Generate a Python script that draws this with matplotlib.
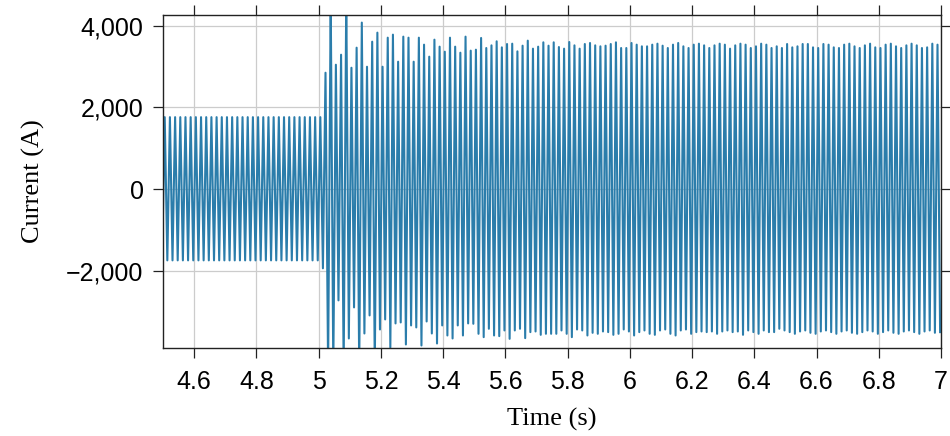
import numpy as np
import matplotlib
matplotlib.use('Agg')
import matplotlib.pyplot as plt
from matplotlib.ticker import FuncFormatter

# 60 Hz waveform, peak/trough values per cycle
f_grid = 60.0
t_first_peak = 4.5055

pre_peaks = [1760] * 31
pre_troughs = [-1745] * 31 + [-1940]   # leading trough before the first peak, last one just before the fault

fault_peaks = [2847, 4700, 3043, 3288, 4700, 2969, 3460, 4074, 2994, 3607,
               3828, 2994, 3705, 3779, 3117, 3730, 3705, 3117, 3705, 3534,
               3240, 3656, 3485, 3362, 3705, 3485, 3337, 3730, 3387, 3411]
fault_troughs = [-4400, -4400, -2724, -4400, -3656, -2896, -4400, -3534, -3092, -4400,
                 -3436, -3190, -3877, -3288, -3264, -3803, -3337, -3386, -3828, -3240,
                 -3534, -3779, -3337, -3583, -3656, -3337, -3583, -3288, -3297, -3542]

steady_peaks = [3698, 3452, 3517, 3616, 3468, 3550, 3558, 3370, 3509, 3632,
                3436, 3485, 3591, 3509, 3591, 3476, 3436, 3599, 3517, 3436,
                3550, 3575, 3517, 3493, 3509, 3550, 3591, 3452, 3452,
                3575, 3534, 3493, 3493, 3534, 3558, 3509, 3452, 3534, 3575,
                3493, 3452, 3534, 3558, 3517, 3452, 3517, 3558, 3534, 3436,
                3517, 3558, 3534, 3452, 3493, 3558, 3534, 3452, 3493, 3452,
                3550, 3468, 3493, 3550, 3550, 3468, 3452, 3550, 3534, 3468,
                3452, 3534, 3558, 3493, 3452, 3517, 3558, 3468, 3452, 3534,
                3558, 3493, 3452, 3517, 3558, 3517, 3452, 3468, 3558, 3534]
steady_troughs = [-3624, -3419, -3583, -3599, -3460, -3665, -3460, -3419, -3648, -3501,
                  -3485, -3567, -3542, -3542, -3542, -3460, -3542, -3624, -3436, -3460,
                  -3583, -3518, -3542, -3485, -3501, -3567, -3542, -3436, -3485,
                  -3583, -3501, -3460, -3542, -3567, -3460, -3436, -3542, -3583, -3460,
                  -3436, -3542, -3501, -3485, -3501, -3485, -3542, -3485, -3460, -3501,
                  -3485, -3567, -3460, -3501, -3542, -3460, -3501, -3501, -3419, -3460,
                  -3501, -3542, -3485, -3460, -3517, -3542, -3485, -3460, -3501, -3542,
                  -3485, -3460, -3517, -3542, -3501, -3460, -3485, -3542, -3501, -3460,
                  -3517, -3542, -3485, -3460, -3501, -3542, -3485, -3460, -3517, -3501]

peaks = pre_peaks + fault_peaks + steady_peaks
troughs = pre_troughs + fault_troughs + steady_troughs

# interleave: trough, peak, trough, peak ...
vals = []
for i in range(len(peaks)):
    vals.append(troughs[i])
    vals.append(peaks[i])
vals.append(troughs[len(peaks)])
vals = np.array(vals, dtype=float)
t = t_first_peak - 1/(2*f_grid) + np.arange(len(vals)) / (2*f_grid)

plt.rcParams['font.family'] = ['Liberation Sans', 'DejaVu Sans']
plt.rcParams['axes.unicode_minus'] = True

fig = plt.figure(figsize=(9.5, 4.36), dpi=100)
ax = fig.add_axes([0.1716, 0.2018, 0.8189, 0.7638])

ax.plot(t, vals, color='#2b7dab', lw=1.5)

ax.set_xlim(4.5, 7.0)
ax.set_ylim(-3890, 4260)
ax.set_xticks(np.arange(4.6, 7.01, 0.2))
ax.set_yticks([-2000, 0, 2000, 4000])
ax.xaxis.set_major_formatter(FuncFormatter(lambda v, p: '{:g}'.format(round(v, 2))))
ax.yaxis.set_major_formatter(FuncFormatter(lambda v, p: '{:,.0f}'.format(v).replace('-', '\u2212')))

ax.grid(True, color='#cccccc', lw=0.9)
ax.set_axisbelow(True)
for s in ax.spines.values():
    s.set_linewidth(1.0)
    s.set_color('#222222')
ax.tick_params(direction='out', length=7, width=0.9, labelsize=18,
               top=True, right=True, color='#222222')
ax.tick_params(axis='x', pad=9)
ax.tick_params(axis='y', pad=7)

serif = ['Liberation Serif', 'DejaVu Serif']
ax.set_xlabel('Time (s)', family=serif, fontsize=19, labelpad=10)
ax.set_ylabel('Current (A)', family=serif, fontsize=19, labelpad=15)

fig.savefig('out.png', dpi=100)
